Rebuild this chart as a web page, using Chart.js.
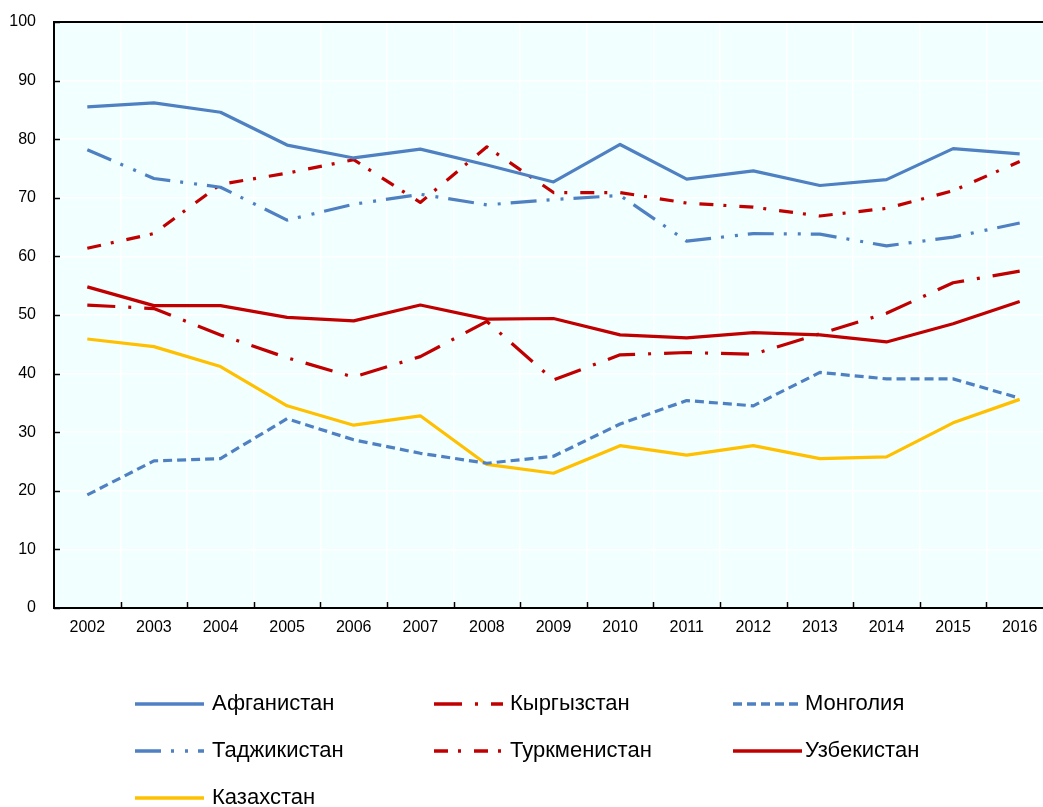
<!DOCTYPE html>
<html>
<head>
<meta charset="utf-8">
<script src="https://cdn.jsdelivr.net/npm/chart.js@4.4.1/dist/chart.umd.min.js"></script>
<style>
  html, body { margin: 0; padding: 0; background: #fff; overflow: hidden; }
  #wrap { width: 1060px; height: 807px; position: relative; }
</style>
</head>
<body>
<div id="wrap"><canvas id="grafico"></canvas></div>
<script>
const anios = ["2002", "2003", "2004", "2005", "2006", "2007", "2008", "2009", "2010", "2011", "2012", "2013", "2014", "2015", "2016"];
const ticksY = [0, 10, 20, 30, 40, 50, 60, 70, 80, 90, 100];

const afganistan   = [85.5, 86.2, 84.6, 79.0, 76.8, 78.3, 75.6, 72.7, 79.1, 73.2, 74.6, 72.1, 73.1, 78.4, 77.5];
const kirguistan   = [51.7, 51.1, 46.6, 42.7, 39.4, 42.9, 48.9, 38.9, 43.2, 43.6, 43.3, 46.8, 50.3, 55.5, 57.5];
const mongolia     = [19.3, 25.1, 25.5, 32.3, 28.7, 26.4, 24.7, 25.9, 31.4, 35.4, 34.5, 40.2, 39.1, 39.1, 35.8];
const tayikistan   = [78.2, 73.3, 71.8, 66.2, 68.9, 70.6, 68.8, 69.7, 70.4, 62.6, 63.9, 63.8, 61.8, 63.3, 65.7];
const turkmenistan = [61.4, 63.9, 72.3, 74.2, 76.5, 69.2, 78.7, 70.9, 70.9, 69.1, 68.4, 66.9, 68.2, 71.2, 76.2];
const uzbekistan   = [54.8, 51.6, 51.6, 49.6, 49.0, 51.7, 49.3, 49.4, 46.6, 46.1, 47.0, 46.6, 45.4, 48.5, 52.3];
const kazajistan   = [45.9, 44.6, 41.2, 34.5, 31.2, 32.8, 24.5, 23.0, 27.7, 26.1, 27.7, 25.5, 25.8, 31.6, 35.6];

const azul = "#4f81c2";
const rojo = "#c00000";
const amarillo = "#ffc000";
const fuente = "'Liberation Sans', Arial, sans-serif";

function serie(label, data, color, dash) {
    return {
        label: label,
        data: data,
        borderColor: color,
        backgroundColor: color,
        borderWidth: 3.2,
        borderDash: dash,
        pointRadius: 0,
        tension: 0,
        fill: false,
        borderJoinStyle: "round"
    };
}

// fondo, borde superior, marcas interiores y leyenda en columnas
const extras = {
    id: "extras",
    beforeDraw(chart) {
        const a = chart.chartArea, ctx = chart.ctx;
        ctx.save();
        ctx.fillStyle = "#f2ffff";
        ctx.fillRect(a.left, a.top, a.right - a.left, a.bottom - a.top);
        ctx.restore();
    },
    afterDraw(chart) {
        const a = chart.chartArea, ctx = chart.ctx;
        const y = chart.scales.y;
        ctx.save();
        ctx.strokeStyle = "#000";
        ctx.lineWidth = 2;
        ctx.beginPath();
        ctx.moveTo(a.left - 1, a.top);
        ctx.lineTo(a.right, a.top);
        ctx.stroke();
        ctx.lineWidth = 1.5;
        const paso = (a.right - a.left) / anios.length;
        for (let i = 1; i <= anios.length; i++) {
            const px = Math.round(a.left + i * paso) + 0.5;
            ctx.beginPath();
            ctx.moveTo(px, a.bottom);
            ctx.lineTo(px, a.bottom - 6);
            ctx.stroke();
        }
        ticksY.forEach(v => {
            const py = Math.round(y.getPixelForValue(v)) + 0.5;
            ctx.beginPath();
            ctx.moveTo(a.left, py);
            ctx.lineTo(a.left + 6, py);
            ctx.stroke();
        });

        const columnas = [135, 434, 733];
        const separacion = [77, 76, 72];
        chart.data.datasets.forEach((ds, i) => {
            const c = i % 3;
            const x0 = columnas[c];
            const yy = 704 + Math.floor(i / 3) * 47;
            ctx.strokeStyle = ds.borderColor;
            ctx.lineWidth = 3.5;
            ctx.setLineDash(ds.borderDash || []);
            ctx.beginPath();
            ctx.moveTo(x0, yy);
            ctx.lineTo(x0 + 69, yy);
            ctx.stroke();
            ctx.setLineDash([]);
            ctx.fillStyle = "#000";
            ctx.font = "22px " + fuente;
            ctx.textBaseline = "middle";
            ctx.textAlign = "left";
            ctx.fillText(ds.label, x0 + separacion[c], yy);
        });
        ctx.restore();
    }
};

const grafico = new Chart(document.getElementById("grafico").getContext("2d"), {
    type: "line",
    data: {
        labels: anios,
        datasets: [
            serie("Афганистан", afganistan, azul, []),
            serie("Кыргызстан", kirguistan, rojo, [28, 13, 3, 13]),
            serie("Монголия", mongolia, azul, [9, 5]),
            serie("Таджикистан", tayikistan, azul, [26, 10, 3, 11, 3, 10]),
            serie("Туркменистан", turkmenistan, rojo, [14, 10, 3, 13]),
            serie("Узбекистан", uzbekistan, rojo, []),
            serie("Казахстан", kazajistan, amarillo, [])
        ]
    },
    options: {
        responsive: true,
        maintainAspectRatio: false,
        animation: false,
        layout: { padding: { top: 22, right: 7, bottom: 159, left: 0 } },
        plugins: {
            legend: { display: false },
            tooltip: { enabled: false }
        },
        scales: {
            x: {
                offset: true,
                grid: { offset: true, color: "#ffffff", lineWidth: 1.5, drawTicks: false },
                border: { color: "#000", width: 2 },
                ticks: { color: "#000", font: { family: fuente, size: 16 }, padding: 10, maxRotation: 0, autoSkip: false },
                afterFit: s => { s.height = 40; s.paddingLeft = 0; s.paddingRight = 0; }
            },
            y: {
                min: 0,
                max: 100,
                afterBuildTicks: s => { s.ticks = ticksY.map(v => ({ value: v })); },
                grid: { color: "#ffffff", lineWidth: 1.5, drawTicks: false },
                border: { color: "#000", width: 2 },
                ticks: { color: "#000", font: { family: fuente, size: 16 }, padding: 18 },
                afterFit: s => { s.width = 54; s.paddingTop = 0; s.paddingBottom = 0; }
            }
        }
    },
    plugins: [extras]
});
</script>
</body>
</html>
